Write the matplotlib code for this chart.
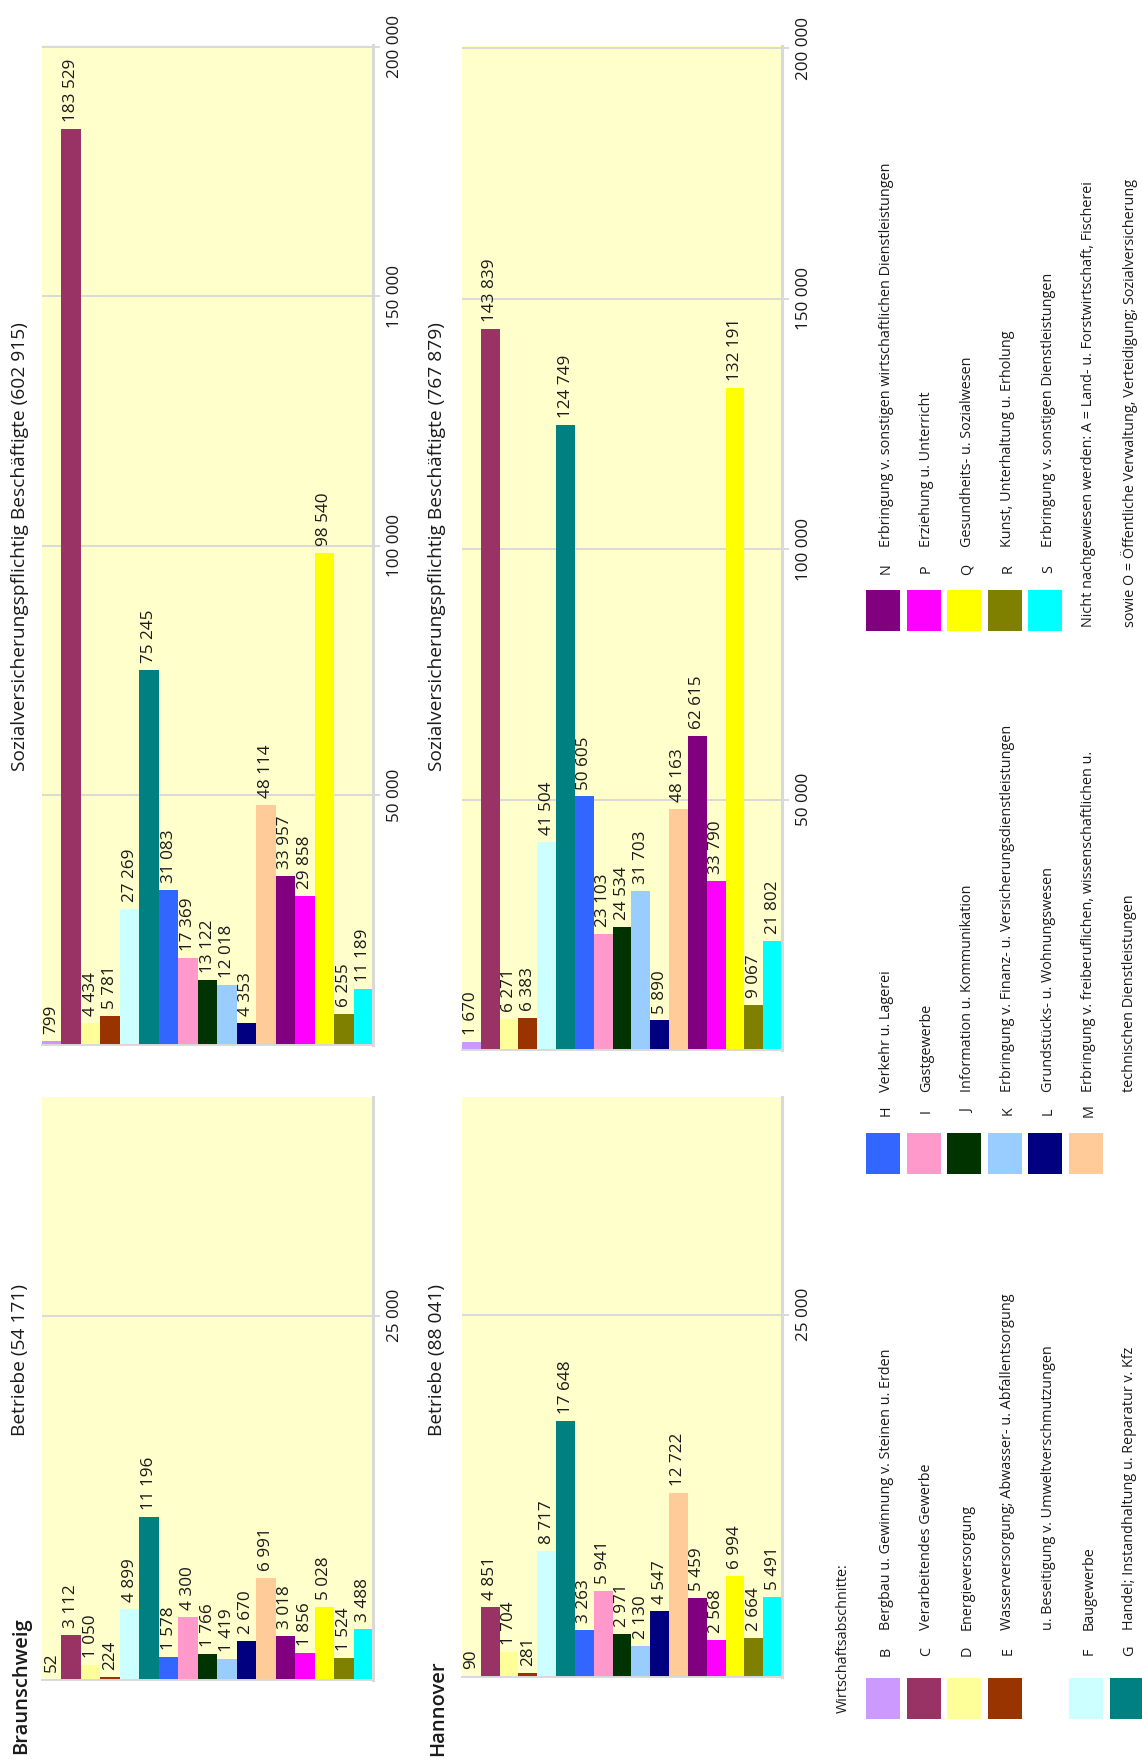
import matplotlib
matplotlib.use("Agg")
import matplotlib.pyplot as plt
from matplotlib.patches import Rectangle

W, H = 1142, 1760
plt.rcParams['font.family'] = ['Open Sans', 'DejaVu Sans']

# ---------------- data ----------------
codes = ['B', 'C', 'D', 'E', 'F', 'G', 'H', 'I', 'J', 'K', 'L', 'M', 'N', 'P', 'Q', 'R', 'S']
bs_betriebe = [52, 3112, 1050, 224, 4899, 11196, 1578, 4300, 1766, 1419, 2670, 6991, 3018, 1856, 5028, 1524, 3488]
bs_besch = [799, 183529, 4434, 5781, 27269, 75245, 31083, 17369, 13122, 12018, 4353, 48114, 33957, 29858, 98540, 6255, 11189]
h_betriebe = [90, 4851, 1704, 281, 8717, 17648, 3263, 5941, 2971, 2130, 4547, 12722, 5459, 2568, 6994, 2664, 5491]
h_besch = [1670, 143839, 6271, 6383, 41504, 124749, 50605, 23103, 24534, 31703, 5890, 48163, 62615, 33790, 132191, 9067, 21802]
betriebe_ticks = [25000]
besch_ticks = [50000, 100000, 150000, 200000]
descriptions = [
    'Bergbau u. Gewinnung v. Steinen u. Erden',
    'Verarbeitendes Gewerbe',
    'Energieversorgung',
    'Wasserversorgung; Abwasser- u. Abfallentsorgung',
    'Baugewerbe',
    'Handel; Instandhaltung u. Reparatur v. Kfz',
    'Verkehr u. Lagerei',
    'Gastgewerbe',
    'Information u. Kommunikation',
    'Erbringung v. Finanz- u. Versicherungsdienstleistungen',
    'Grundstücks- u. Wohnungswesen',
    'Erbringung v. freiberuflichen, wissenschaftlichen u.',
    'Erbringung v. sonstigen wirtschaftlichen Dienstleistungen',
    'Erziehung u. Unterricht',
    'Gesundheits- u. Sozialwesen',
    'Kunst, Unterhaltung u. Erholung',
    'Erbringung v. sonstigen Dienstleistungen',
]
cont_E = 'u. Beseitigung v. Umweltverschmutzungen'
cont_M = 'technischen Dienstleistungen'
note1 = 'Nicht nachgewiesen werden: A = Land- u. Forstwirtschaft, Fischerei'
note2 = 'sowie O = Öffentliche Verwaltung, Verteidigung; Sozialversicherung'
legend_title = 'Wirtschaftsabschnitte:'

# ---------------- style ----------------
colors = ['#CC99FF', '#993366', '#FFFF99', '#993300', '#CCFFFF', '#008080', '#3366FF',
          '#FF99CC', '#003300', '#99CCFF', '#000080', '#FFCC99', '#800080', '#FF00FF',
          '#FFFF00', '#808000', '#00FFFF']
BG = '#FFFFCC'
GRID = '#d9d9d9'
TXT = '#1a1a1a'
FS = 12.3
TFS = 13.8
LFS = 10.4

fig = plt.figure(figsize=(W / 100, H / 100), dpi=100)


def fmt(v):
    return f"{v:,}".replace(",", " ")


def panel(l, t, r, b, values, ylim, ticks):
    ax = fig.add_axes([l / W, 1 - b / H, (r - l) / W, (b - t) / H])
    ax.set_facecolor(BG)
    x = list(range(len(values)))
    ax.bar(x, values, width=1.0, color=colors, linewidth=0, zorder=2)
    ax.set_xlim(-0.5, len(values) - 0.5)
    ax.set_ylim(*ylim)
    ax.set_xticks([])
    ax.yaxis.tick_right()
    ax.set_yticks(ticks)
    ax.set_yticklabels([fmt(t) for t in ticks], rotation=90, va='center',
                       fontsize=FS, color=TXT)
    ax.tick_params(axis='y', length=5, width=1.4, color=GRID, pad=5)
    ax.grid(axis='y', color=GRID, linewidth=1.4, zorder=1)
    ax.set_axisbelow(True)
    for s in ['left', 'top']:
        ax.spines[s].set_visible(False)
    ax.spines['right'].set_color(GRID)
    ax.spines['right'].set_linewidth(2.2)
    ax.spines['bottom'].set_color(GRID)
    ax.spines['bottom'].set_linewidth(1.4)
    for i, v in enumerate(values):
        ax.annotate(fmt(v), (i, v), xytext=(0, 5), textcoords='offset points',
                    rotation=90, rotation_mode='anchor', ha='left', va='center',
                    fontsize=FS, color=TXT, zorder=5)
    return ax


panel(42, 45, 373, 1045, bs_besch, (0, 200400), besch_ticks)
panel(42, 1097, 373, 1680, bs_betriebe, (0, 40000), betriebe_ticks)
panel(462, 46, 782, 1050, h_besch, (0, 200400), besch_ticks)
panel(462, 1097, 782, 1677, h_betriebe, (0, 40000), betriebe_ticks)


def ftext(x, y, s, ha='left', **kw):
    fig.text(x / W, 1 - y / H, s, rotation=90, rotation_mode='anchor', ha=ha,
             va='center', color=TXT, **kw)


# titles
ftext(20, 547, f'Sozialversicherungspflichtig Beschäftigte ({fmt(sum(bs_besch))})', ha='center', fontsize=TFS)
ftext(437, 547, f'Sozialversicherungspflichtig Beschäftigte ({fmt(sum(h_besch))})', ha='center', fontsize=TFS)
ftext(20, 1360, f'Betriebe ({fmt(sum(bs_betriebe))})', ha='center', fontsize=TFS)
ftext(437, 1360, f'Betriebe ({fmt(sum(h_betriebe))})', ha='center', fontsize=TFS)
ftext(21, 1754, 'Braunschweig', fontsize=14.5, fontweight='semibold')
ftext(438, 1756, 'Hannover', fontsize=14.5, fontweight='semibold')

# legend
ftext(843, 1713, legend_title, fontsize=LFS)
columns = [
    # (indices, rows, swatch_top, letter_y, text_y)
    ([0, 1, 2, 3, 4, 5], [0, 1, 2, 3, 5, 6], 1678, 1651, 1630),
    ([6, 7, 8, 9, 10, 11], [0, 1, 2, 3, 4, 5], 1133, 1111, 1092),
    ([12, 13, 14, 15, 16], [0, 1, 2, 3, 4], 590, 569, 547),
]


def row_x(k):
    return 883 + 40.6 * k


for idxs, rows, stop, ly, ty in columns:
    for i, k in zip(idxs, rows):
        cx = row_x(k)
        fig.add_artist(Rectangle(((cx - 17) / W, 1 - (stop + 41) / H), 34 / W, 41 / H,
                                 transform=fig.transFigure, facecolor=colors[i],
                                 edgecolor='none'))
        ftext(cx + 3, ly, codes[i], ha='center', fontsize=LFS)
        ftext(cx + 3, ty, descriptions[i], fontsize=LFS)

ftext(row_x(4) + 3, 1630, cont_E, fontsize=LFS)
ftext(row_x(6) + 3, 1092, cont_M, fontsize=LFS)
ftext(row_x(5) + 3, 627, note1, fontsize=LFS)
ftext(row_x(6) + 3, 627, note2, fontsize=LFS)

fig.savefig('out.png', dpi=100, facecolor='white')
